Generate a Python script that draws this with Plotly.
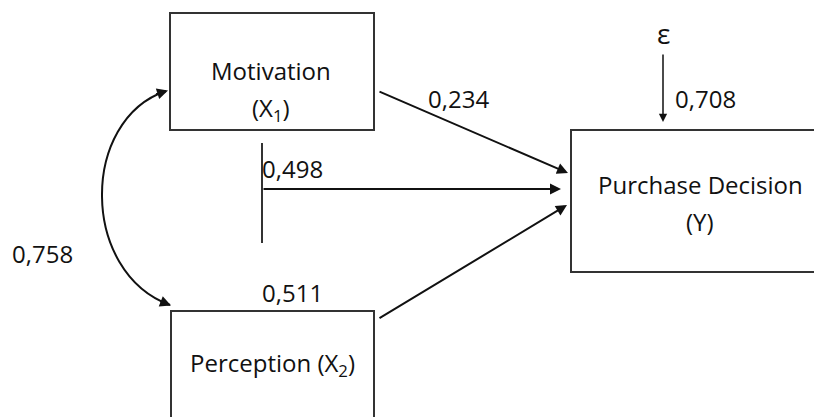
import plotly.graph_objects as go

# ---- data ----
var_lines = {
    "Motivation": ["Motivation", "(X<sub>1</sub>)"],
    "Perception": ["Perception (X<sub>2</sub>)"],
    "Purchase": ["Purchase Decision", "(Y)"],
}
error_symbol = "ε"
path_labels = ["0,234", "0,498", "0,511", "0,708", "0,758"]

FONT = "Open Sans"
COL = "#111111"
BOX = "#333333"
FS = 24

fig = go.Figure()
shapes = []
ann = []

def box(x0, y0, x1, y1):
    shapes.append(dict(type="rect", x0=x0, y0=y0, x1=x1, y1=y1, xref="x", yref="y",
                       line=dict(color=BOX, width=2), fillcolor="rgba(0,0,0,0)"))

def text(x, y, s, anchor="center", size=FS):
    ann.append(dict(x=x, y=y, text=s, showarrow=False, xanchor=anchor, yanchor="middle",
                    font=dict(family=FONT, size=size, color=COL), xref="x", yref="y"))

def arrow(x0, y0, x1, y1, w=2):
    ann.append(dict(x=x1, y=y1, ax=x0, ay=y0, axref="x", ayref="y", xref="x", yref="y",
                    text="", showarrow=True, arrowhead=2, arrowsize=1.1, arrowwidth=w,
                    arrowcolor=COL, standoff=0, startstandoff=0))

# boxes
box(170, 13, 374, 130)
box(171, 311, 374, 440)
box(571, 130, 830, 272)

# box labels
text(271, 70, var_lines["Motivation"][0])
text(271, 109, var_lines["Motivation"][1])
text(272, 364, var_lines["Perception"][0])
text(700, 184, var_lines["Purchase"][0])
text(700, 221, var_lines["Purchase"][1])

# error term
text(663, 33, error_symbol, size=28)
arrow(663, 53, 663, 122, w=1.5)

# paths
arrow(378, 91, 568, 173)
shapes.append(dict(type="line", x0=262, y0=143, x1=262, y1=243, xref="x", yref="y",
                   line=dict(color=BOX, width=2)))
arrow(262, 189, 561, 189)
arrow(378, 319, 567, 205)

# covariance curve
shapes.append(dict(type="path", path="M 166,91 C 80,120 80,272 170,305", xref="x", yref="y",
                   line=dict(color=COL, width=2)))
arrow(154.6, 94.8, 168, 90.5)
arrow(158.8, 300.7, 171, 305.5)

# coefficient labels
text(426, 98, path_labels[0], anchor="left")
text(260, 168, path_labels[1], anchor="left")
text(260, 292, path_labels[2], anchor="left")
text(673, 98, path_labels[3], anchor="left")
text(10, 253, path_labels[4], anchor="left")

fig.update_layout(
    width=814, height=417,
    margin=dict(l=0, r=0, t=0, b=0),
    paper_bgcolor="white", plot_bgcolor="white",
    xaxis=dict(range=[0, 814], visible=False, fixedrange=True),
    yaxis=dict(range=[417, 0], visible=False, fixedrange=True),
    shapes=shapes, annotations=ann, showlegend=False,
)
fig.write_html("out.html", config={"displayModeBar": False},
               post_script="document.body.style.margin='0';document.body.style.overflow='hidden';")
